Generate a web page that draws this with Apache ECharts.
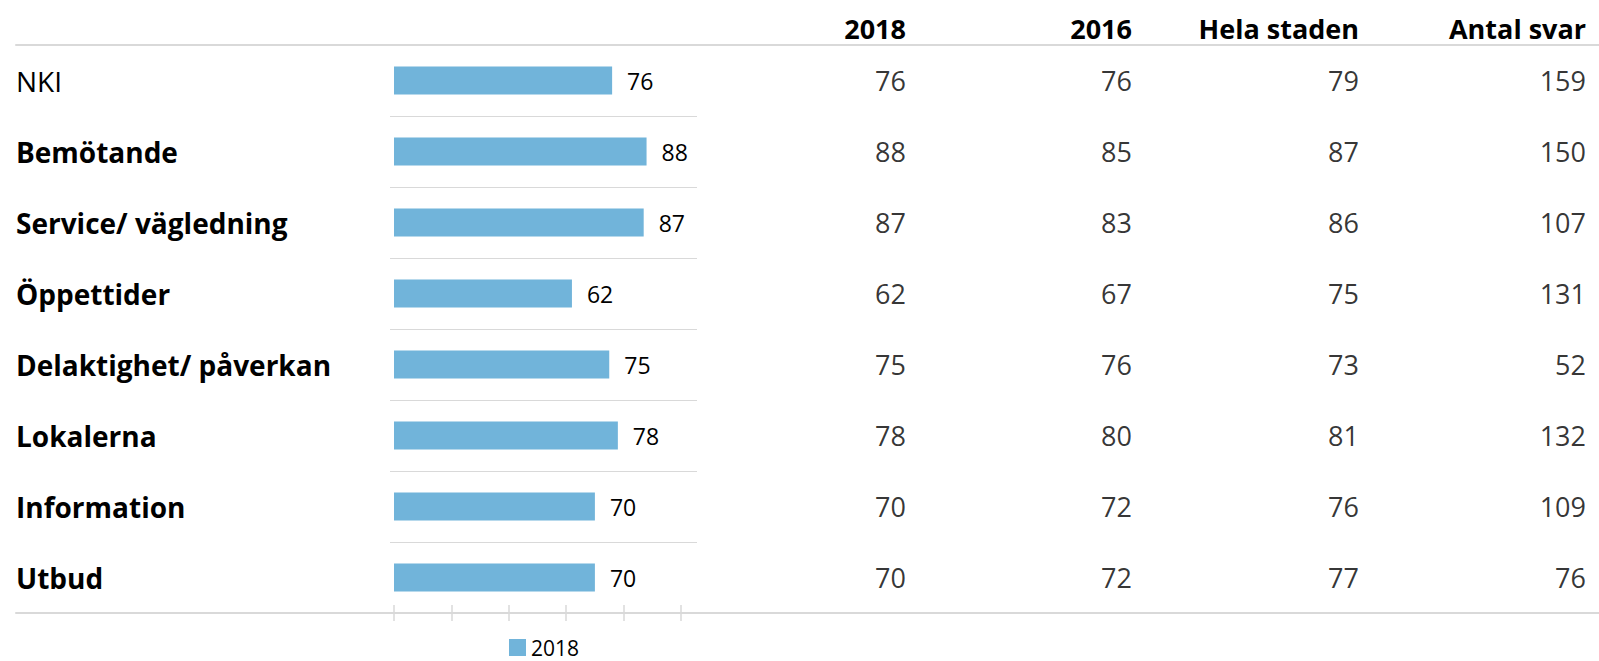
<!DOCTYPE html>
<html>
<head>
<meta charset="utf-8">
<script src="https://cdn.jsdelivr.net/npm/echarts@6/dist/echarts.min.js"></script>
<style>
  html, body { margin: 0; padding: 0; background: #fff; }
  #chart { width: 1599px; height: 661px; }
</style>
</head>
<body>
<div id="chart"></div>
<script>
var categories = ['NKI', 'Bemötande', 'Service/ vägledning', 'Öppettider',
  'Delaktighet/ påverkan', 'Lokalerna', 'Information', 'Utbud'];
var values2018 = [76, 88, 87, 62, 75, 78, 70, 70];
var values2016 = [76, 85, 83, 67, 76, 80, 72, 72];
var helaStaden = [79, 87, 86, 75, 73, 81, 76, 77];
var antalSvar = [159, 150, 107, 131, 52, 132, 109, 76];
var columnNames = ['2018', '2016', 'Hela staden', 'Antal svar'];
var columnValues = [values2018, values2016, helaStaden, antalSvar];
var columnRight = [906, 1132, 1359, 1586];

var font = '"Open Sans", "Noto Sans", sans-serif';
var lineColor = '#d9d9d9';
var gridTop = 45, gridHeight = 568;

var grids = [
  {left: 394, width: 287, top: gridTop, height: gridHeight},   // bars
  {left: 390, width: 307, top: gridTop, height: gridHeight},   // row separators
  {left: 394, width: 287, top: gridTop, height: gridHeight},   // inner ticks
  {left: 16, right: 0, top: gridTop, height: gridHeight}       // full-width lines
];
var xAxes = [
  {gridIndex: 0, type: 'value', min: 0, max: 100, interval: 20,
    axisLine: {show: false}, splitLine: {show: false}, axisLabel: {show: false},
    axisTick: {show: true, length: 8, lineStyle: {color: lineColor, width: 1.5}}},
  {gridIndex: 1, type: 'value', show: false, min: 0, max: 1},
  {gridIndex: 2, type: 'value', min: 0, max: 100, interval: 20,
    axisLine: {show: false}, splitLine: {show: false}, axisLabel: {show: false},
    axisTick: {show: true, inside: true, length: 8, lineStyle: {color: lineColor, width: 1.5}}},
  {gridIndex: 3, type: 'value', min: 0, max: 1, position: 'bottom',
    axisLine: {show: true, lineStyle: {color: lineColor, width: 2}},
    axisTick: {show: false}, axisLabel: {show: false}, splitLine: {show: false}},
  {gridIndex: 3, type: 'value', min: 0, max: 1, position: 'top',
    axisLine: {show: true, lineStyle: {color: lineColor, width: 2}},
    axisTick: {show: false}, axisLabel: {show: false}, splitLine: {show: false}}
];
var yAxes = [
  {gridIndex: 0, type: 'category', data: categories, inverse: true,
    axisLine: {show: false}, axisTick: {show: false},
    axisLabel: {
      margin: 378, align: 'left',
      formatter: function (v, i) { return (i === 0 ? '{n|' : '{b|') + v + '}'; },
      rich: {
        n: {fontFamily: font, fontSize: 28, color: '#000'},
        b: {fontFamily: font, fontSize: 28, fontWeight: 'bold', color: '#000'}
      }
    }},
  {gridIndex: 1, type: 'category', data: categories, inverse: true,
    axisLine: {show: false}, axisTick: {show: false}, axisLabel: {show: false},
    splitLine: {show: true, interval: 0, lineStyle: {color: lineColor, width: 1}}},
  {gridIndex: 2, type: 'category', data: categories, inverse: true, show: false},
  {gridIndex: 3, type: 'category', data: categories, inverse: true, show: false}
];

var series = [{
  name: '2018',
  type: 'bar',
  xAxisIndex: 0,
  yAxisIndex: 0,
  data: values2018,
  barWidth: 28,
  itemStyle: {color: '#71b4da'},
  label: {show: true, position: 'right', distance: 15,
    fontFamily: font, fontSize: 23, color: '#000'}
}];

var graphics = [];
columnNames.forEach(function (name, c) {
  var g = grids.length;
  grids.push({left: columnRight[c] - 150, width: 150, top: gridTop, height: gridHeight});
  xAxes.push({gridIndex: g, type: 'value', min: 0, max: 1, show: false});
  yAxes.push({gridIndex: g, type: 'category', data: categories, inverse: true, show: false});
  series.push({
    name: name + ' tabell',
    type: 'scatter',
    xAxisIndex: xAxes.length - 1,
    yAxisIndex: yAxes.length - 1,
    symbolSize: 0,
    silent: true,
    data: columnValues[c].map(function (v, i) { return [1, categories[i], v]; }),
    label: {show: true, position: 'left', distance: 0, align: 'right',
      formatter: function (p) { return p.value[2]; },
      fontFamily: font, fontSize: 27, color: '#000'}
  });
  graphics.push({
    type: 'text',
    style: {text: name, x: columnRight[c], y: 28, align: 'right', verticalAlign: 'middle',
      fontFamily: font, fontSize: 27, fontWeight: 'bold', fill: '#000'}
  });
});

var option = {
  animation: false,
  grid: grids,
  xAxis: xAxes,
  yAxis: yAxes,
  series: series,
  graphic: graphics,
  legend: {
    data: ['2018'],
    left: 509, top: 637, padding: 0,
    itemWidth: 17, itemHeight: 17, icon: 'rect',
    textStyle: {fontFamily: font, fontSize: 21, lineHeight: 17, color: '#000'}
  }
};

var myChart = echarts.init(document.getElementById('chart'), null, {renderer: 'svg'});
myChart.setOption(option);
</script>
</body>
</html>
